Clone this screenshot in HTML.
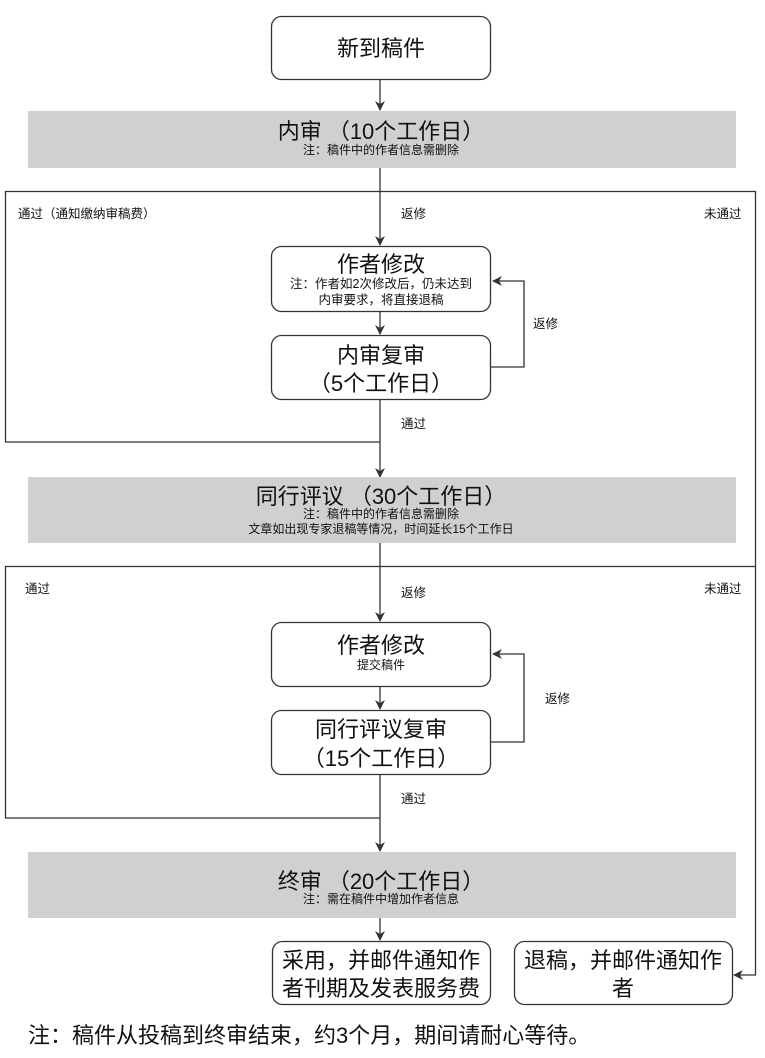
<!DOCTYPE html>
<html><head><meta charset="utf-8"><style>
body{margin:0;background:#fff}
svg{display:block}
text{font-family:"Liberation Sans","Noto Sans CJK SC",sans-serif;fill:#111;text-anchor:middle}
.l{text-anchor:start}
</style></head><body>
<svg width="765" height="1058" viewBox="0 0 765 1058" xmlns="http://www.w3.org/2000/svg">
<defs><marker id="a" markerWidth="10" markerHeight="10" refX="9" refY="5" orient="auto" markerUnits="userSpaceOnUse"><path d="M0,0 L10,5 L0,10 L3,5 z" fill="#333"/></marker></defs>
<g stroke="#333" stroke-width="1.3" fill="none">
<rect x="271.5" y="16.5" width="219" height="63" rx="10" fill="#fff"/>
<line x1="380" y1="80" x2="380" y2="110" marker-end="url(#a)"/>
<rect x="28" y="111" width="708" height="57" fill="#d0d0d0" stroke="none"/>
<polyline points="380,442 5.5,442 5.5,191.5 755.5,191.5 755.5,975 734,975" marker-end="url(#a)"/>
<line x1="380" y1="168" x2="380" y2="245" marker-end="url(#a)"/>
<rect x="271.5" y="246.5" width="219" height="65" rx="10" fill="#fff"/>
<line x1="380" y1="312" x2="380" y2="334" marker-end="url(#a)"/>
<rect x="271.5" y="335.5" width="219" height="64" rx="10" fill="#fff"/>
<polyline points="491,367 524,367 524,281 493,281" marker-end="url(#a)"/>
<line x1="380" y1="400" x2="380" y2="477" marker-end="url(#a)"/>
<rect x="28" y="477" width="708" height="66" fill="#d0d0d0" stroke="none"/>
<polyline points="380,818 5.5,818 5.5,566.5 755.5,566.5"/>
<line x1="380" y1="543" x2="380" y2="621" marker-end="url(#a)"/>
<rect x="271.5" y="622.5" width="219" height="64" rx="10" fill="#fff"/>
<line x1="380" y1="687" x2="380" y2="709" marker-end="url(#a)"/>
<rect x="271.5" y="710.5" width="219" height="64" rx="10" fill="#fff"/>
<polyline points="491,742 524,742 524,654 493,654" marker-end="url(#a)"/>
<line x1="380" y1="775" x2="380" y2="851" marker-end="url(#a)"/>
<rect x="28" y="852" width="708" height="66" fill="#d0d0d0" stroke="none"/>
<line x1="380" y1="918" x2="380" y2="940" marker-end="url(#a)"/>
<rect x="272.5" y="941.5" width="218" height="63" rx="10" fill="#fff"/>
<rect x="514.5" y="941.5" width="218" height="63" rx="10" fill="#fff"/>
</g>
<text x="381" y="56" font-size="22">新到稿件</text>
<text x="381" y="139" font-size="22">内审 （10个工作日）</text>
<text x="381" y="154" font-size="12">注：稿件中的作者信息需删除</text>
<text class="l" x="18" y="218" font-size="12.5">通过（通知缴纳审稿费）</text>
<text class="l" x="401" y="218" font-size="12.5">返修</text>
<text class="l" x="704" y="218" font-size="12.5">未通过</text>
<text x="381" y="272" font-size="22">作者修改</text>
<text x="381" y="288" font-size="12.5">注：作者如2次修改后，仍未达到</text>
<text x="381" y="304" font-size="12.5">内审要求，将直接退稿</text>
<text x="381" y="363" font-size="22">内审复审</text>
<text x="381" y="391" font-size="22">（5个工作日）</text>
<text class="l" x="533" y="328" font-size="12.5">返修</text>
<text class="l" x="401" y="428" font-size="12.5">通过</text>
<text x="381" y="504" font-size="22">同行评议 （30个工作日）</text>
<text x="381" y="518" font-size="12">注：稿件中的作者信息需删除</text>
<text x="381" y="533" font-size="12">文章如出现专家退稿等情况，时间延长15个工作日</text>
<text class="l" x="25" y="593" font-size="12.5">通过</text>
<text class="l" x="401" y="597" font-size="12.5">返修</text>
<text class="l" x="704" y="593" font-size="12.5">未通过</text>
<text x="381" y="653" font-size="22">作者修改</text>
<text x="381" y="669" font-size="12">提交稿件</text>
<text x="381" y="737" font-size="22">同行评议复审</text>
<text x="381" y="766" font-size="22">（15个工作日）</text>
<text class="l" x="545" y="703" font-size="12.5">返修</text>
<text class="l" x="401" y="803" font-size="12.5">通过</text>
<text x="381" y="889" font-size="22">终审 （20个工作日）</text>
<text x="381" y="903" font-size="12">注：需在稿件中增加作者信息</text>
<text x="381" y="968" font-size="22">采用，并邮件通知作</text>
<text x="381" y="996" font-size="22">者刊期及发表服务费</text>
<text x="623" y="968" font-size="22">退稿，并邮件通知作</text>
<text x="623" y="996" font-size="22">者</text>
<text class="l" x="28" y="1043" font-size="22">注：稿件从投稿到终审结束，约3个月，期间请耐心等待。</text>
</svg>
</body></html>
